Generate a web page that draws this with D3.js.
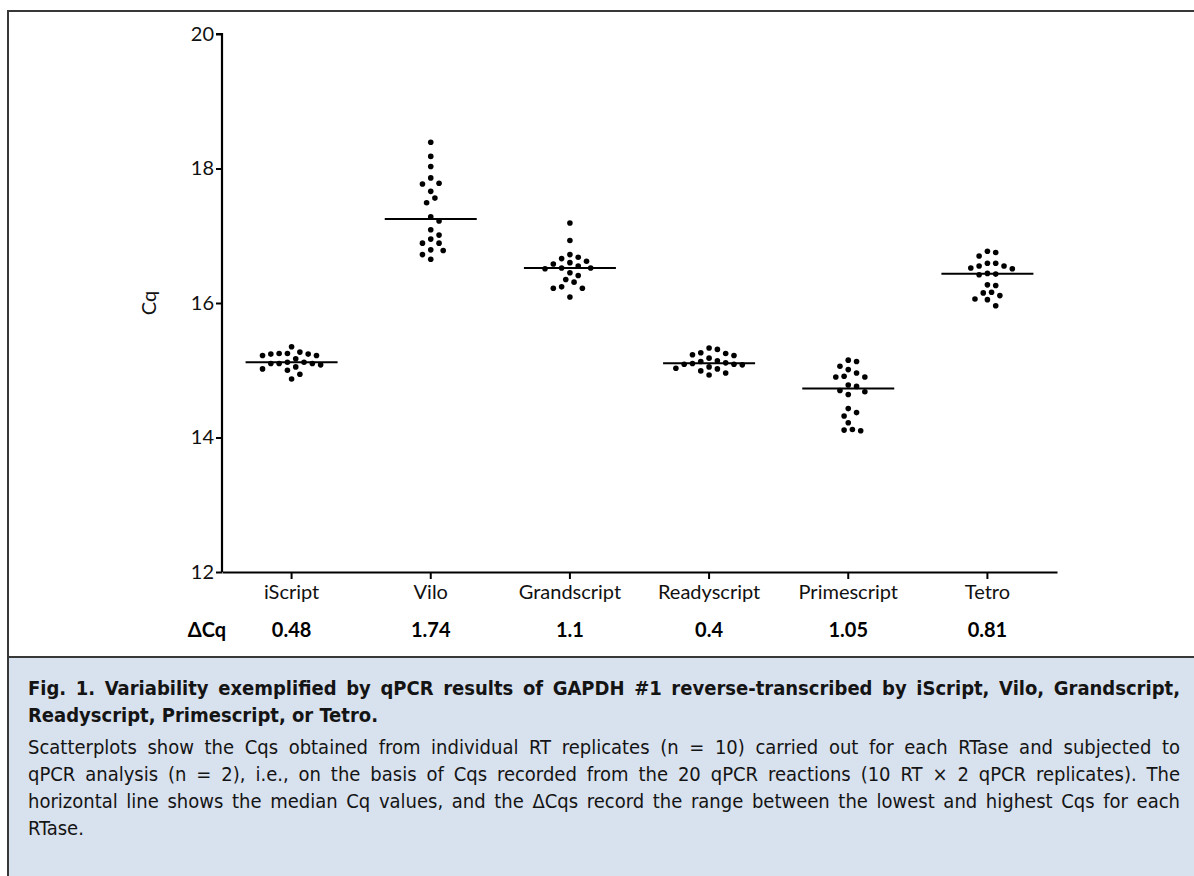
<!DOCTYPE html>
<html>
<head>
<meta charset="utf-8">
<script src="https://cdn.jsdelivr.net/npm/d3@7"></script>
<style>
  body { margin: 0; background: #fff; }
  #wrap { position: relative; width: 1194px; height: 876px; overflow: hidden; }
  svg { position: absolute; left: 0; top: 0; }
  #caption {
    position: absolute; left: 28px; top: 675px; width: 1152px;
    font-family: "Liberation Sans Narrow", "DejaVu Sans Condensed", "Roboto", sans-serif;
    font-size: 20px; line-height: 27px; color: #141414;
  }
  #caption .ln { text-align: justify; text-align-last: justify; white-space: nowrap; }
  #caption .last { text-align: left; text-align-last: left; }
  #caption .b { font-weight: bold; }
  #caption .gap { height: 5px; }
</style>
</head>
<body>
<div id="wrap">
  <div id="chart"></div>
  <div id="caption"></div>
</div>
<script>
// 数据：各 RTase 的 20 个 Cq 值
const categories = ["iScript", "Vilo", "Grandscript", "Readyscript", "Primescript", "Tetro"];
const deltaCq = ["0.48", "1.74", "1.1", "0.4", "1.05", "0.81"];
const iScript = [15.35, 15.27, 15.25, 15.24, 15.22, 15.22, 15.24, 15.25, 15.17, 15.12, 15.12, 15.10, 15.08, 15.10, 15.10, 15.05, 15.02, 15.00, 14.94, 14.87];
const vilo = [18.39, 18.18, 18.03, 17.86, 17.78, 17.77, 17.66, 17.56, 17.49, 17.28, 17.22, 17.09, 17.01, 16.95, 16.89, 16.89, 16.78, 16.79, 16.72, 16.65];
const grandscript = [17.19, 16.93, 16.72, 16.68, 16.66, 16.60, 16.62, 16.58, 16.55, 16.52, 16.52, 16.51, 16.45, 16.41, 16.35, 16.31, 16.22, 16.22, 16.24, 16.09];
const readyscript = [15.33, 15.31, 15.25, 15.26, 15.22, 15.23, 15.18, 15.14, 15.13, 15.11, 15.10, 15.09, 15.08, 15.09, 15.05, 15.02, 15.03, 14.99, 14.96, 14.93];
const primescript = [15.15, 15.13, 15.06, 15.01, 14.96, 14.90, 14.91, 14.90, 14.78, 14.76, 14.70, 14.68, 14.64, 14.43, 14.37, 14.32, 14.22, 14.12, 14.10, 14.11];
const tetro = [16.77, 16.75, 16.70, 16.59, 16.59, 16.55, 16.55, 16.52, 16.51, 16.44, 16.43, 16.42, 16.27, 16.26, 16.16, 16.15, 16.11, 16.06, 16.05, 15.96];
const seriesValues = [iScript, vilo, grandscript, readyscript, primescript, tetro];
const yTicks = [12, 14, 16, 18, 20];

const captionLines = [
  { bold: true, text: "<b>Fig. 1.</b> Variability exemplified by qPCR results of GAPDH #1 reverse-transcribed by iScript, Vilo, Grandscript," },
  { bold: true, last: true, text: "Readyscript, Primescript, or Tetro." },
  { gap: true },
  { text: "Scatterplots show the Cqs obtained from individual RT replicates (n = 10) carried out for each RTase and subjected to" },
  { text: "qPCR analysis (n = 2), i.e., on the basis of Cqs recorded from the 20 qPCR reactions (10 RT × 2 qPCR replicates). The" },
  { text: "horizontal line shows the median Cq values, and the ΔCqs record the range between the lowest and highest Cqs for each" },
  { last: true, text: "RTase." }
];

const W = 1194, H = 876;
const axisFont = "Lato, 'Open Sans', sans-serif";

const svg = d3.select("#chart").append("svg")
  .attr("width", W)
  .attr("height", H);

// 图注背景和边框
svg.append("rect")
  .attr("x", 8).attr("y", 657).attr("width", W - 8).attr("height", H - 657)
  .attr("fill", "#d8e1ee");
svg.append("line").attr("x1", 8).attr("x2", W).attr("y1", 11).attr("y2", 11)
  .attr("stroke", "#383838").attr("stroke-width", 2);
svg.append("line").attr("x1", 8).attr("x2", 8).attr("y1", 10).attr("y2", H)
  .attr("stroke", "#383838").attr("stroke-width", 2);
svg.append("line").attr("x1", 8).attr("x2", W).attr("y1", 657).attr("y2", 657)
  .attr("stroke", "#383838").attr("stroke-width", 2);

// 比例尺
const x = d3.scaleBand().domain(categories).range([222, 1057]).padding(0);
const y = d3.scaleLinear().domain([12, 20]).range([572, 34]);
const cx = c => x(c) + x.bandwidth() / 2;

// y 轴
const yAxis = svg.append("g")
  .attr("transform", "translate(222,0)")
  .call(d3.axisLeft(y).tickValues(yTicks).tickSize(6).tickPadding(2).tickFormat(d3.format("d")));
yAxis.select(".domain").attr("stroke", "#000").attr("stroke-width", 2.2).attr("d", `M-6,${y(20)}H0V${y(12)}`);
yAxis.selectAll(".tick line").attr("stroke", "#000").attr("stroke-width", 2);
yAxis.selectAll(".tick text").attr("font-family", axisFont).attr("font-size", 20).attr("fill", "#111");

// x 轴
const xAxis = svg.append("g")
  .attr("transform", "translate(0,572)")
  .call(d3.axisBottom(x).tickSize(7).tickPadding(6).tickSizeOuter(0));
xAxis.select(".domain").attr("stroke", "#000").attr("stroke-width", 2.2);
xAxis.selectAll(".tick line").attr("stroke", "#000").attr("stroke-width", 2);
xAxis.selectAll(".tick text").attr("font-family", axisFont).attr("font-size", 20).attr("fill", "#111");

// y 轴标题
svg.append("text")
  .attr("transform", `translate(156,${y(16)}) rotate(-90)`)
  .attr("text-anchor", "middle")
  .attr("font-family", axisFont).attr("font-size", 20).attr("fill", "#111")
  .text("Cq");

// ΔCq 行
svg.append("text")
  .attr("x", 207).attr("y", 637)
  .attr("text-anchor", "middle")
  .attr("font-family", axisFont).attr("font-size", 20).attr("font-weight", "bold")
  .text("ΔCq");
svg.selectAll(".dcq")
  .data(categories)
  .enter().append("text")
  .attr("class", "dcq")
  .attr("x", d => cx(d)).attr("y", 637)
  .attr("text-anchor", "middle")
  .attr("font-family", axisFont).attr("font-size", 20).attr("font-weight", "bold")
  .text((d, i) => deltaCq[i]);

// 蜂群布局：按值排序，水平偏移取半格的整数倍，找最靠近中线且不重叠的位置
function swarm(values, D) {
  const step = D / 2;
  const pts = values.map(v => ({ v, py: y(v) })).sort((a, b) => a.py - b.py);
  const placed = [];
  const cands = [0];
  for (let k = 1; k <= 12; k++) cands.push(k * step, -k * step);
  pts.forEach(p => {
    for (const c of cands) {
      if (placed.every(q => (c - q.dx) ** 2 + (p.py - q.py) ** 2 >= (D - 0.5) ** 2)) {
        p.dx = c;
        break;
      }
    }
    placed.push(p);
  });
  return placed;
}

categories.forEach((cat, i) => {
  const vals = seriesValues[i];
  const g = svg.append("g").attr("transform", `translate(${cx(cat)},0)`);
  g.selectAll("circle")
    .data(swarm(vals, 8.3))
    .enter().append("circle")
    .attr("cx", d => d.dx)
    .attr("cy", d => d.py)
    .attr("r", 2.8)
    .attr("fill", "#000");
  // 中位数线
  const med = d3.median(vals);
  g.append("line")
    .attr("x1", -46).attr("x2", 46)
    .attr("y1", y(med)).attr("y2", y(med))
    .attr("stroke", "#000").attr("stroke-width", 2);
});

// 图注文字
const cap = d3.select("#caption");
captionLines.forEach(l => {
  if (l.gap) { cap.append("div").attr("class", "gap"); return; }
  cap.append("div")
    .attr("class", "ln" + (l.bold ? " b" : "") + (l.last ? " last" : ""))
    .html(l.text);
});
</script>
</body>
</html>
